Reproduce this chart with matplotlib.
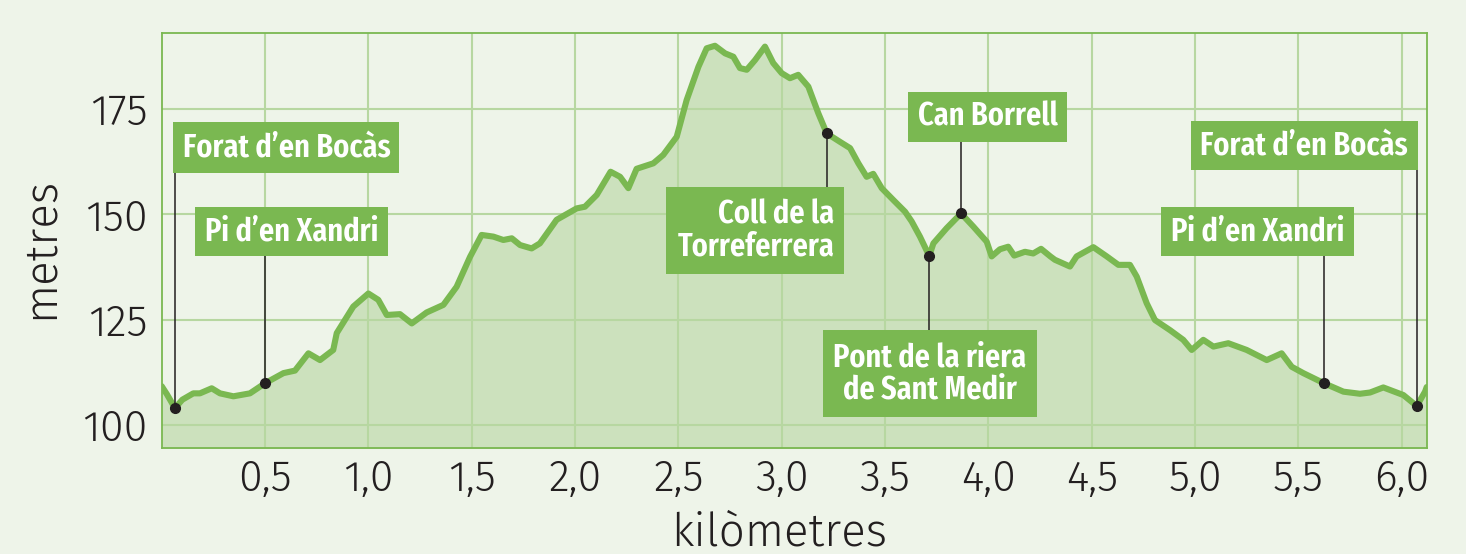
import matplotlib
matplotlib.use('Agg')
import matplotlib.pyplot as plt
from matplotlib import font_manager as fm
from matplotlib.patches import Rectangle

# perfil del recorregut (km, metres)
dist_km = [0.000, 0.025, 0.064, 0.100, 0.153, 0.185, 0.242, 0.282, 0.347, 0.427,
           0.500, 0.589, 0.645, 0.710, 0.766, 0.830, 0.847, 0.927, 1.000, 1.048,
           1.089, 1.153, 1.210, 1.282, 1.363, 1.427, 1.492, 1.548, 1.605, 1.653,
           1.694, 1.734, 1.790, 1.830, 1.911, 2.008, 2.048, 2.105, 2.172, 2.218,
           2.258, 2.298, 2.379, 2.427, 2.492, 2.540, 2.597, 2.637, 2.677, 2.726,
           2.766, 2.798, 2.831, 2.871, 2.919, 2.959, 3.000, 3.040, 3.080, 3.129,
           3.177, 3.218, 3.282, 3.331, 3.371, 3.411, 3.443, 3.484, 3.540, 3.597,
           3.629, 3.669, 3.714, 3.734, 3.798, 3.868, 3.927, 3.992, 4.016, 4.056,
           4.096, 4.125, 4.177, 4.217, 4.255, 4.300, 4.322, 4.395, 4.427, 4.508,
           4.573, 4.629, 4.685, 4.718, 4.766, 4.806, 4.879, 4.943, 4.984, 5.040,
           5.089, 5.161, 5.250, 5.347, 5.419, 5.468, 5.524, 5.624, 5.718, 5.798,
           5.847, 5.911, 6.008, 6.073, 6.113, 6.121]
altitud_m = [109.2, 107.3, 104.0, 106.0, 107.5, 107.5, 108.7, 107.5, 106.8, 107.5,
             109.9, 112.3, 112.9, 117.0, 115.4, 117.8, 121.8, 128.1, 131.2, 129.7,
             126.1, 126.3, 124.1, 126.7, 128.5, 132.8, 139.9, 145.1, 144.7, 143.9,
             144.3, 142.7, 141.9, 143.1, 148.7, 151.4, 151.8, 154.6, 160.1, 158.9,
             156.2, 160.8, 162.1, 164.1, 168.4, 177.1, 185.0, 189.4, 190.0, 188.2,
             187.4, 184.7, 184.3, 186.6, 189.8, 185.9, 183.5, 182.3, 183.1, 180.3,
             174.0, 169.2, 167.2, 165.7, 162.1, 158.9, 159.6, 156.2, 153.4, 150.6,
             148.3, 144.7, 140.1, 143.1, 146.7, 150.2, 147.1, 143.5, 140.0, 141.7,
             142.3, 140.2, 141.1, 140.7, 141.8, 140.0, 139.2, 137.6, 140.0, 142.2,
             140.0, 138.0, 138.0, 135.2, 128.9, 124.9, 122.5, 120.2, 117.8, 120.2,
             118.6, 119.4, 117.8, 115.4, 117.0, 113.8, 112.3, 109.9, 107.9, 107.4,
             107.7, 108.9, 107.1, 104.5, 107.9, 109.0]

# punts de pas
punts_nom = ["Forat d\u2019en Bocàs", "Pi d\u2019en Xandri", "Coll de la\nTorreferrera",
             "Pont de la riera\nde Sant Medir", "Can Borrell", "Pi d\u2019en Xandri",
             "Forat d\u2019en Bocàs"]
punts_km = [0.064, 0.500, 3.218, 3.714, 3.868, 5.624, 6.073]
punts_alt = [104.0, 109.9, 169.2, 140.1, 150.2, 109.9, 104.5]

x_ticks = [0.5, 1.0, 1.5, 2.0, 2.5, 3.0, 3.5, 4.0, 4.5, 5.0, 5.5, 6.0]
x_ticklabels = ['0,5', '1,0', '1,5', '2,0', '2,5', '3,0', '3,5', '4,0', '4,5', '5,0', '5,5', '6,0']
y_ticks = [100, 125, 150, 175]

# caixes de les etiquetes: x0, x1, y_baix, y_dalt, alineació
caixes = [
    (0.056, 1.150, 159.9, 171.8, 'center'),
    (0.161, 1.096, 140.0, 151.7, 'center'),
    (2.440, 3.301, 135.8, 156.4, 'right'),
    (3.200, 4.234, 101.8, 122.5, 'center'),
    (3.613, 4.379, 167.1, 179.0, 'center'),
    (4.835, 5.769, 140.0, 151.8, 'center'),
    (4.980, 6.077, 160.4, 172.2, 'center'),
]

# colors
FONS = '#eef4e9'
VERD = '#7ab851'
VERD_FILL = '#cce1bd'
GRAELLA = '#b7d7a1'
TEXT = '#231f20'

fonts = fm.fontManager.ttflist


def pick(names):
    avail = {f.name for f in fonts}
    for n in names:
        if n in avail:
            return n
    return 'DejaVu Sans'


def pick_light(names):
    # família amb una variant fina (300) en estil normal
    for n in names:
        if any(f.name == n and f.style == 'normal' and f.weight == 300 for f in fonts):
            return n
    return pick(names)


font_light = pick_light(['Fira Sans', 'Open Sans', 'Lato', 'Roboto', 'Noto Sans', 'DejaVu Sans'])
font_bold = pick(['Fira Sans Extra Condensed', 'Fira Sans Condensed', 'PT Sans Narrow',
                  'Roboto Condensed', 'Liberation Sans Narrow', 'DejaVu Sans'])

fig = plt.figure(figsize=(14.66, 5.54), dpi=100, facecolor=FONS)
ax = fig.add_axes([161.7 / 1466, 1 - 447.7 / 554, (1426.7 - 161.7) / 1466, (447.7 - 32.7) / 554])
ax.set_facecolor(FONS)

ax.set_xlim(0, 6.121)
ax.set_ylim(94.6, 193.1)

ax.fill_between(dist_km, altitud_m, 80, color=VERD_FILL, lw=0, zorder=1)
ax.plot(dist_km, altitud_m, color=VERD, lw=4.4, solid_joinstyle='round',
        solid_capstyle='round', zorder=2)

ax.set_axisbelow('line')
ax.grid(True, color=GRAELLA, lw=1.5)
for s in ax.spines.values():
    s.set_color(VERD)
    s.set_linewidth(1.3)

ax.set_xticks(x_ticks)
ax.set_xticklabels(x_ticklabels)
ax.set_yticks(y_ticks)
ax.tick_params(length=0, colors=TEXT)
ax.tick_params(axis='x', pad=8)
ax.tick_params(axis='y', pad=10)
for lab in ax.get_xticklabels() + ax.get_yticklabels():
    lab.set_fontfamily(font_light)
    lab.set_fontweight(300)
    lab.set_fontsize(31)

fig.text(40 / 1466, 1 - 248 / 554, 'metres', rotation=90, ha='center', va='center',
         family=font_light, weight=300, fontsize=33, color=TEXT)
fig.text(779 / 1466, 1 - 546 / 554, 'kilòmetres', ha='center', va='baseline',
         family=font_light, weight=300, fontsize=33, color=TEXT)

# mida de lletra de les etiquetes ajustada a l'amplada de la caixa de referència
renderer = fig.canvas.get_renderer()
prova = fig.text(0, 0, punts_nom[0], family=font_bold, weight='semibold', fontsize=24)
w = prova.get_window_extent(renderer).width
prova.remove()
fs_label = min(24 * 208 / w, 27)

for nom, xk, ya, (x0, x1, yb, yt, al) in zip(punts_nom, punts_km, punts_alt, caixes):
    ax.add_patch(Rectangle((x0, yb), x1 - x0, yt - yb, facecolor=VERD, edgecolor='none', zorder=4))
    if yb > ya:
        ax.plot([xk, xk], [ya, yb], color=TEXT, lw=1.1, zorder=3)
    else:
        ax.plot([xk, xk], [ya, yt], color=TEXT, lw=1.1, zorder=3)
    ax.plot(xk, ya, 'o', color=TEXT, ms=7, zorder=5)
    if al == 'right':
        tx = x1 - 0.045
    else:
        tx = (x0 + x1) / 2
    ax.text(tx, (yb + yt) / 2, nom, ha=al, va='center', multialignment=al,
            color='white', family=font_bold, weight='semibold', fontsize=fs_label,
            linespacing=1.0, zorder=6)

fig.savefig('out.png', dpi=100, facecolor=FONS)
